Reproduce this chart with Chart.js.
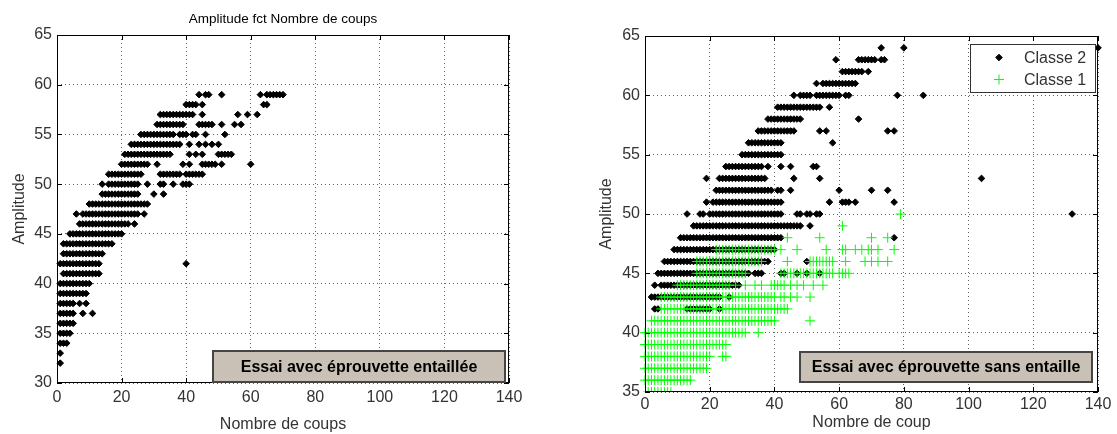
<!DOCTYPE html>
<html>
<head>
<meta charset="utf-8">
<script src="https://cdn.jsdelivr.net/npm/chart.js@4.4.0/dist/chart.umd.min.js"></script>
<style>
  body { margin: 0; background: #fff; width: 1117px; height: 434px; position: relative; overflow: hidden; }
  canvas { position: absolute; top: 0; }
  #left { left: 0; }
  #right { left: 580px; }
</style>
</head>
<body>
<canvas id="left" width="566" height="434"></canvas>
<canvas id="right" width="537" height="434"></canvas>
<script>
// axis ticks
const xTicks = [0, 20, 40, 60, 80, 100, 120, 140];
const yTicksLeft = [30, 35, 40, 45, 50, 55, 60, 65];
const yTicksRight = [35, 40, 45, 50, 55, 60, 65];

// left: notched specimen, one row of "nombre de coups" per amplitude level
const ampNotched = [59, 58, 57, 56, 55, 54, 53, 52, 51, 50, 49, 48, 47, 46, 45, 44, 43, 42, 41, 40, 39, 38, 37, 36, 35, 34, 33, 32];
const coupsNotched = [
    [44,46,47,51,63,65,66,67,68,69,70],
    [40,41,42,43,45,64,65],
    [32,33,34,35,36,37,38,39,40,41,42,45,56,59,62],
    [31,32,33,34,35,36,37,38,39,44,45,46,47,48,51,55,57],
    [26,27,28,29,30,31,32,33,34,35,36,38,39,40,42,43,46,52],
    [23,24,25,26,27,28,29,30,31,32,33,34,35,36,37,38,41,44,46,48,50],
    [21,22,23,24,25,26,27,28,29,30,31,32,33,34,35,41,43,45,50,51,52,53,54],
    [20,21,22,23,24,25,26,27,28,31,39,41,45,46,47,48,49,51,60],
    [16,17,18,19,20,21,22,23,24,25,26,32,33,34,35,36,37,38,40,41,42,43,44,45],
    [14,16,17,18,19,20,21,22,23,24,25,28,32,33,36,39,40,41],
    [14,15,16,17,18,19,20,21,22,23,24,25,30,33],
    [10,11,12,13,14,15,16,17,18,19,20,21,22,23,24,25,26,27,28],
    [6,8,9,10,11,12,13,14,15,16,17,18,19,20,21,22,23,24,25,27],
    [7,8,9,10,11,12,13,14,15,16,17,18,19,20,21,22,24],
    [4,5,6,7,8,9,10,11,12,13,14,15,16,17,18,19,20],
    [2,3,4,5,6,7,8,9,10,11,12,13,14,15,16,17],
    [2,3,4,5,6,7,8,9,10,11,12,13,14],
    [1,2,3,4,5,6,7,8,9,10,11,12,13,40],
    [2,3,4,5,6,7,8,9,10,11,12,13],
    [1,2,3,4,5,6,7,8,9,10],
    [1,2,3,4,5,6,7,8,9],
    [1,2,3,4,5,7,9],
    [1,2,3,4,5,8,11],
    [1,2,3,4,5],
    [1,2,3,4],
    [1,2,3],
    [1],
    [1]
];

// right: specimen without notch, classe 2 (black)
const ampClass2 = [64, 63, 62, 61, 60, 59, 58, 57, 56, 55, 54, 53, 52, 51, 50, 49, 48, 47, 46, 45, 44, 43, 42];
const coupsClass2 = [
    [73,80,140],
    [59,66,67,68,69,70,71,73,74],
    [61,62,63,64,65,66,67,69],
    [53,55,56,57,58,59,60,61,62,63,64,65],
    [46,48,49,50,51,53,54,55,56,57,58,59,60,62,63,78,86],
    [41,42,43,44,45,46,47,48,49,50,51,52,53,54,57],
    [38,39,40,41,42,43,44,45,46,47,48,66],
    [35,36,37,38,39,40,41,42,43,44,45,46,54,56,75,77],
    [32,33,34,35,36,37,38,39,40,41,42,58],
    [30,31,32,33,34,35,36,37,38,39,40,41,42],
    [25,26,27,28,29,30,31,32,33,34,35,36,38,42,45,52,53],
    [19,23,24,25,26,27,28,29,30,31,32,33,34,35,36,37,46,54,104],
    [22,23,24,25,26,27,28,29,30,31,32,33,34,35,36,37,38,39,41,42,45,60,70,75],
    [19,21,22,23,24,25,26,27,28,29,30,31,32,33,34,35,36,37,38,39,40,41,42,57,61,62,63,65,77],
    [13,17,18,20,21,22,23,24,25,26,27,28,29,30,31,32,33,34,35,36,37,38,39,40,41,42,47,48,50,51,53,54,132],
    [15,16,17,18,19,20,21,22,23,24,25,26,27,28,29,30,31,32,33,34,35,36,37,38,39,40,41,42,43,44,45,46,47,48,51],
    [11,12,13,14,15,16,17,18,19,20,21,22,23,24,25,26,27,28,29,30,31,32,33,34,35,36,37,38,39,40,41,42,77],
    [9,10,11,12,13,14,15,16,17,18,19,20,21,22,23,24,25,26,27,28,29,30,31,32,33,34,35,36,37,38,39,40],
    [6,7,8,9,10,11,12,13,14,15,16,17,18,19,20,21,22,23,24,25,26,27,28,29,30,31,32,33,34,35,36,37,38,50],
    [4,5,6,7,8,9,10,11,12,13,14,15,16,17,18,19,20,21,22,23,24,25,26,27,28,29,30,31,32,34,35,36,42,43,47,50,54],
    [3,5,6,7,8,9,10,11,12,13,14,15,16,17,18,19,20,21,22,23,24,25,26,27,28,29],
    [2,3,4,5,6,7,8,9,10,11,12,13,14,15,16,17,18,19,20,21,22,23,26],
    [3,4,13,14,15,16,17,18,19,20,23]
];

// right: classe 1 (green)
const ampClass1 = [50, 49, 48, 47, 46, 45, 44, 43, 42, 41, 40, 39, 38, 37, 36, 35];
const coupsClass1 = [
    [79],
    [61],
    [44,54,70,75],
    [22,23,24,25,26,27,28,29,30,31,32,33,34,35,36,37,38,39,40,42,47,56,61,62,65,67,69,70,72,77],
    [16,17,18,19,20,21,22,23,24,25,26,27,28,29,30,31,32,33,34,35,36,44,51,52,53,54,55,56,57,58,62,68,70,72,75],
    [16,17,18,19,20,21,22,23,24,25,26,27,28,29,30,31,42,43,44,45,46,47,48,49,50,51,52,53,54,55,56,57,58,60,61,62,63],
    [10,11,12,13,14,15,16,17,18,19,20,21,22,23,24,25,26,28,31,34,36,39,40,41,42,43,45,47,49,52,55],
    [5,6,7,8,9,10,11,12,13,14,15,16,17,18,19,20,21,22,23,24,25,26,27,28,29,30,31,32,33,34,35,36,37,38,39,40,42,43,45,47,51],
    [5,6,7,8,9,10,11,12,13,14,15,16,17,18,19,20,21,22,23,24,25,26,27,28,29,30,31,32,33,34,35,36,37,38,39,40,41,42,43,44],
    [2,3,4,5,6,7,8,9,10,11,12,13,14,15,16,17,18,19,20,21,22,23,24,25,26,27,28,29,30,31,32,33,34,35,36,37,38,39,40,51],
    [0,1,2,3,4,5,6,7,8,9,10,11,12,13,14,15,16,17,18,19,20,21,22,23,24,25,26,27,28,29,30,31,35],
    [0,1,2,3,4,5,6,7,8,9,10,11,12,13,14,15,16,17,18,19,20,21,22,23,24,25],
    [0,1,2,3,4,5,6,7,8,9,10,11,12,13,14,15,16,17,18,19,20,24,25],
    [0,1,2,3,4,5,6,7,8,9,10,11,12,13,14,15,16,17,18,19],
    [0,1,2,3,4,5,6,7,8,9,10,11,12,13,14],
    [1,2,3,4,5,6,7,8]
];

function toPoints(levels, rows) {
    const pts = [];
    levels.forEach((amp, i) => {
        rows[i].forEach(c => pts.push({ x: c, y: amp }));
    });
    return pts;
}

Chart.defaults.font.family = '"Liberation Sans", Arial, sans-serif';
Chart.defaults.font.size = 16;
Chart.defaults.color = '#333';

// matlab look: solid box, inward ticks, text box, legend box
const framePlugin = {
    id: 'frame',
    afterDraw(chart, args, opts) {
        const { ctx, chartArea: a } = chart;
        const xs = chart.scales.x, ys = chart.scales.y;
        ctx.save();
        ctx.strokeStyle = '#000';
        ctx.lineWidth = 1;
        ctx.beginPath();
        for (const t of xs.ticks) {
            const px = Math.round(xs.getPixelForValue(t.value)) + 0.5;
            ctx.moveTo(px, a.bottom); ctx.lineTo(px, a.bottom - 5);
            ctx.moveTo(px, a.top); ctx.lineTo(px, a.top + 5);
        }
        for (const t of ys.ticks) {
            const py = Math.round(ys.getPixelForValue(t.value)) + 0.5;
            ctx.moveTo(a.left, py); ctx.lineTo(a.left + 5, py);
            ctx.moveTo(a.right, py); ctx.lineTo(a.right - 5, py);
        }
        ctx.stroke();
        ctx.strokeRect(a.left + 0.5, a.top + 0.5, a.right - a.left - 1, a.bottom - a.top - 1);

        if (opts.note) {
            const n = opts.note;
            const bx = a.right - n.right - n.width;
            const by = a.bottom - n.bottom - n.height;
            ctx.fillStyle = '#c9c1b6';
            ctx.fillRect(bx, by, n.width, n.height);
            ctx.strokeStyle = '#454545';
            ctx.lineWidth = 2;
            ctx.strokeRect(bx, by, n.width, n.height);
            ctx.fillStyle = '#000';
            ctx.font = 'bold 16px "Liberation Sans", Arial, sans-serif';
            ctx.textAlign = 'center';
            ctx.textBaseline = 'middle';
            ctx.fillText(n.text, bx + n.width / 2, by + n.height / 2 + 1);
        }

        if (opts.legend) {
            const L = opts.legend;
            const bx = a.right - L.right - L.width;
            const by = a.top + L.top;
            ctx.fillStyle = '#fff';
            ctx.fillRect(bx, by, L.width, L.height);
            ctx.strokeStyle = '#333';
            ctx.lineWidth = 1;
            ctx.strokeRect(bx + 0.5, by + 0.5, L.width, L.height);
            ctx.font = '16px "Liberation Sans", Arial, sans-serif';
            ctx.textAlign = 'left';
            ctx.textBaseline = 'middle';
            chart.data.datasets.forEach((ds, i) => {
                const yy = by + 13.5 + i * 22;
                ctx.fillStyle = ds.backgroundColor;
                ctx.strokeStyle = ds.borderColor;
                ctx.lineWidth = ds.borderWidth;
                Chart.helpers.drawPoint(ctx, {
                    pointStyle: ds.pointStyle, radius: ds.pointRadius, rotation: 0, borderWidth: ds.borderWidth
                }, bx + 29, yy);
                ctx.fillStyle = '#333';
                ctx.fillText(ds.label, bx + 54, yy + 1);
            });
        }
        ctx.restore();
    }
};

function axisX(height, pad, title) {
    return {
        type: 'linear', min: 0, max: 140,
        afterBuildTicks: s => { s.ticks = xTicks.map(v => ({ value: v })); },
        afterFit: s => { s.height = height; },
        ticks: { padding: pad, maxRotation: 0, autoSkip: false },
        grid: { drawTicks: false, color: 'rgba(0,0,0,0.6)' },
        border: { display: false, dash: [1, 3] },
        title: { display: true, text: title, padding: 0 }
    };
}

function axisY(width, ticks, titlePad) {
    return {
        type: 'linear', min: ticks[0], max: ticks[ticks.length - 1],
        afterBuildTicks: s => { s.ticks = ticks.map(v => ({ value: v })); },
        afterFit: s => { s.width = width; },
        ticks: { padding: 5, autoSkip: false },
        grid: { drawTicks: false, color: 'rgba(0,0,0,0.6)' },
        border: { display: false, dash: [1, 3] },
        title: { display: true, text: 'Amplitude', padding: { top: titlePad, bottom: 0 } }
    };
}

const blackDot = {
    pointStyle: 'rectRot', pointRadius: 3.3, borderWidth: 1,
    backgroundColor: '#000', borderColor: '#000'
};

new Chart(document.getElementById('left'), {
    type: 'scatter',
    data: {
        datasets: [Object.assign({
            label: 'Essai entaillé',
            data: toPoints(ampNotched, coupsNotched),
            clip: { left: 5, right: 5, top: 5, bottom: 5 }
        }, blackDot)]
    },
    options: {
        responsive: false,
        animation: false,
        devicePixelRatio: 1,
        layout: { padding: { left: 0, right: 57, top: 0, bottom: 0 } },
        scales: {
            x: axisX(51, 5, 'Nombre de coups'),
            y: axisY(57, yTicksLeft, 9.5)
        },
        plugins: {
            legend: { display: false },
            tooltip: { enabled: false },
            title: {
                display: true, fullSize: false, text: 'Amplitude fct Nombre de coups', color: '#000',
                font: { size: 13.5, weight: 'normal' }, padding: { top: 11, bottom: 7.8 }
            },
            frame: { note: { text: 'Essai avec éprouvette entaillée', right: 4, bottom: 1, width: 292, height: 31 } }
        }
    },
    plugins: [framePlugin]
});

new Chart(document.getElementById('right'), {
    type: 'scatter',
    data: {
        datasets: [
            Object.assign({
                label: 'Classe 2',
                data: toPoints(ampClass2, coupsClass2),
                order: 1,
                clip: { left: 5, right: 5, top: 5, bottom: 0 }
            }, blackDot),
            {
                label: 'Classe 1',
                data: toPoints(ampClass1, coupsClass1),
                order: 0,
                pointStyle: 'cross', pointRadius: 5, borderWidth: 1,
                backgroundColor: '#00ff00', borderColor: '#00ff00',
                clip: { left: 5, right: 5, top: 5, bottom: 0 }
            }
        ]
    },
    options: {
        responsive: false,
        animation: false,
        devicePixelRatio: 1,
        layout: { padding: { left: 0, right: 19, top: 36, bottom: 2 } },
        scales: {
            x: axisX(40, 3, 'Nombre de coup'),
            y: axisY(65, yTicksRight, 17)
        },
        plugins: {
            legend: { display: false },
            tooltip: { enabled: false },
            frame: {
                note: { text: 'Essai avec éprouvette sans entaille', right: 6, bottom: 10, width: 292, height: 30 },
                legend: { right: 3, top: 8, width: 125, height: 48 }
            }
        }
    },
    plugins: [framePlugin]
});
</script>
</body>
</html>
